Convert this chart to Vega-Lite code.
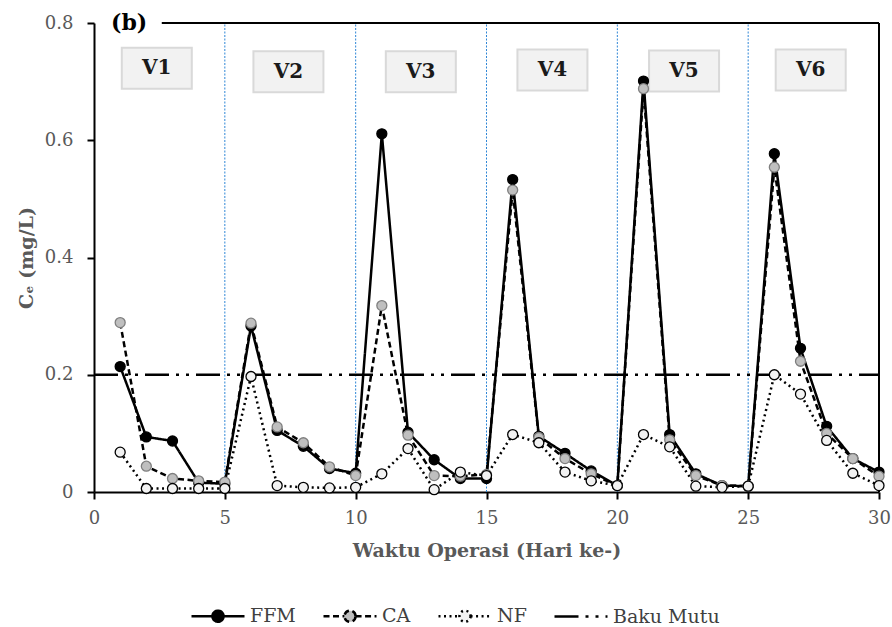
{
  "$schema": "https://vega.github.io/schema/vega-lite/v6.json",
  "width": 785,
  "height": 469,
  "autosize": {"type": "none"},
  "padding": {"left": 94, "top": 23, "right": 13, "bottom": 135},
  "background": "white",
  "config": {"view": {"stroke": null}, "font": "DejaVu Serif"},
  "datasets": {
    "obs": [
      {"day": 1, "series": "FFM", "value": 0.214}, {"day": 2, "series": "FFM", "value": 0.094}, {"day": 3, "series": "FFM", "value": 0.087},
      {"day": 4, "series": "FFM", "value": 0.016}, {"day": 5, "series": "FFM", "value": 0.014}, {"day": 6, "series": "FFM", "value": 0.283},
      {"day": 7, "series": "FFM", "value": 0.105}, {"day": 8, "series": "FFM", "value": 0.078}, {"day": 9, "series": "FFM", "value": 0.04},
      {"day": 10, "series": "FFM", "value": 0.032}, {"day": 11, "series": "FFM", "value": 0.611}, {"day": 12, "series": "FFM", "value": 0.102},
      {"day": 13, "series": "FFM", "value": 0.055}, {"day": 14, "series": "FFM", "value": 0.023}, {"day": 15, "series": "FFM", "value": 0.023},
      {"day": 16, "series": "FFM", "value": 0.533}, {"day": 17, "series": "FFM", "value": 0.095}, {"day": 18, "series": "FFM", "value": 0.066},
      {"day": 19, "series": "FFM", "value": 0.036}, {"day": 20, "series": "FFM", "value": 0.011}, {"day": 21, "series": "FFM", "value": 0.701},
      {"day": 22, "series": "FFM", "value": 0.098}, {"day": 23, "series": "FFM", "value": 0.031}, {"day": 24, "series": "FFM", "value": 0.011},
      {"day": 25, "series": "FFM", "value": 0.01}, {"day": 26, "series": "FFM", "value": 0.577}, {"day": 27, "series": "FFM", "value": 0.245},
      {"day": 28, "series": "FFM", "value": 0.112}, {"day": 29, "series": "FFM", "value": 0.057}, {"day": 30, "series": "FFM", "value": 0.034},
      {"day": 1, "series": "CA", "value": 0.289}, {"day": 2, "series": "CA", "value": 0.044}, {"day": 3, "series": "CA", "value": 0.023},
      {"day": 4, "series": "CA", "value": 0.019}, {"day": 5, "series": "CA", "value": 0.017}, {"day": 6, "series": "CA", "value": 0.288},
      {"day": 7, "series": "CA", "value": 0.111}, {"day": 8, "series": "CA", "value": 0.084}, {"day": 9, "series": "CA", "value": 0.043},
      {"day": 10, "series": "CA", "value": 0.028}, {"day": 11, "series": "CA", "value": 0.318}, {"day": 12, "series": "CA", "value": 0.097},
      {"day": 13, "series": "CA", "value": 0.028}, {"day": 14, "series": "CA", "value": 0.027}, {"day": 15, "series": "CA", "value": 0.03},
      {"day": 16, "series": "CA", "value": 0.515}, {"day": 17, "series": "CA", "value": 0.093}, {"day": 18, "series": "CA", "value": 0.057},
      {"day": 19, "series": "CA", "value": 0.031}, {"day": 20, "series": "CA", "value": 0.011}, {"day": 21, "series": "CA", "value": 0.688},
      {"day": 22, "series": "CA", "value": 0.089}, {"day": 23, "series": "CA", "value": 0.028}, {"day": 24, "series": "CA", "value": 0.011},
      {"day": 25, "series": "CA", "value": 0.01}, {"day": 26, "series": "CA", "value": 0.554}, {"day": 27, "series": "CA", "value": 0.223},
      {"day": 28, "series": "CA", "value": 0.1}, {"day": 29, "series": "CA", "value": 0.057}, {"day": 30, "series": "CA", "value": 0.027},
      {"day": 1, "series": "NF", "value": 0.068}, {"day": 2, "series": "NF", "value": 0.006}, {"day": 3, "series": "NF", "value": 0.006},
      {"day": 4, "series": "NF", "value": 0.006}, {"day": 5, "series": "NF", "value": 0.006}, {"day": 6, "series": "NF", "value": 0.197},
      {"day": 7, "series": "NF", "value": 0.011}, {"day": 8, "series": "NF", "value": 0.008}, {"day": 9, "series": "NF", "value": 0.007},
      {"day": 10, "series": "NF", "value": 0.008}, {"day": 11, "series": "NF", "value": 0.031}, {"day": 12, "series": "NF", "value": 0.074},
      {"day": 13, "series": "NF", "value": 0.004}, {"day": 14, "series": "NF", "value": 0.034}, {"day": 15, "series": "NF", "value": 0.028},
      {"day": 16, "series": "NF", "value": 0.098}, {"day": 17, "series": "NF", "value": 0.084}, {"day": 18, "series": "NF", "value": 0.034},
      {"day": 19, "series": "NF", "value": 0.019}, {"day": 20, "series": "NF", "value": 0.011}, {"day": 21, "series": "NF", "value": 0.098},
      {"day": 22, "series": "NF", "value": 0.077}, {"day": 23, "series": "NF", "value": 0.01}, {"day": 24, "series": "NF", "value": 0.008},
      {"day": 25, "series": "NF", "value": 0.01}, {"day": 26, "series": "NF", "value": 0.2}, {"day": 27, "series": "NF", "value": 0.167},
      {"day": 28, "series": "NF", "value": 0.088}, {"day": 29, "series": "NF", "value": 0.032}, {"day": 30, "series": "NF", "value": 0.011},
      {"day": 0, "series": "Baku Mutu", "value": 0.2}, {"day": 30, "series": "Baku Mutu", "value": 0.2}
    ],
    "dividers": [{"day": 5}, {"day": 10}, {"day": 15}, {"day": 20}, {"day": 25}],
    "phases": [
      {"label": "V1", "day": 2.4, "value": 0.723},
      {"label": "V2", "day": 7.43, "value": 0.717},
      {"label": "V3", "day": 12.49, "value": 0.717},
      {"label": "V4", "day": 17.52, "value": 0.72},
      {"label": "V5", "day": 22.55, "value": 0.718},
      {"label": "V6", "day": 27.39, "value": 0.72}
    ]
  },
  "layer": [
    {
      "data": {"name": "dividers"},
      "mark": {"type": "rule", "color": "#2f86d6", "strokeWidth": 1, "strokeDash": [2, 1.5]},
      "encoding": {
        "x": {"field": "day", "type": "quantitative"},
        "y": {"datum": 0},
        "y2": {"datum": 0.8}
      }
    },
    {
      "data": {"values": [{}]},
      "mark": {"type": "rule", "color": "black", "strokeWidth": 2},
      "encoding": {
        "x": {"datum": 2.59},
        "x2": {"datum": 30},
        "y": {"datum": 0.8}
      }
    },
    {
      "data": {"values": [{}]},
      "mark": {"type": "rule", "color": "black", "strokeWidth": 2},
      "encoding": {
        "x": {"datum": 30},
        "y": {"datum": 0},
        "y2": {"datum": 0.8}
      }
    },
    {
      "data": {"values": [{}]},
      "mark": {"type": "text", "text": "(b)", "font": "DejaVu Serif", "fontWeight": "bold", "fontSize": 22, "color": "black", "baseline": "middle", "align": "center"},
      "encoding": {
        "x": {"datum": 1.34},
        "y": {"datum": 0.8}
      }
    },
    {
      "data": {"name": "phases"},
      "mark": {"type": "rect", "width": 70, "height": 41, "fill": "#f2f2f2", "stroke": "#d9d9d9", "strokeWidth": 2},
      "encoding": {
        "x": {"field": "day", "type": "quantitative"},
        "y": {"field": "value", "type": "quantitative"}
      }
    },
    {
      "data": {"name": "phases"},
      "mark": {"type": "text", "font": "DejaVu Serif", "fontWeight": "bold", "fontSize": 20, "color": "#1a1a1a", "baseline": "middle", "align": "center"},
      "encoding": {
        "x": {"field": "day", "type": "quantitative"},
        "y": {"field": "value", "type": "quantitative"},
        "text": {"field": "label"}
      }
    },
    {
      "data": {"name": "obs"},
      "mark": {"type": "line", "color": "black", "strokeWidth": 2.5},
      "encoding": {
        "x": {
          "field": "day", "type": "quantitative",
          "scale": {"domain": [0, 30], "nice": false},
          "axis": {
            "values": [0, 5, 10, 15, 20, 25, 30], "grid": false, "labelFlush": false,
            "title": "Waktu Operasi (Hari ke-)",
            "domainColor": "black", "domainWidth": 2, "tickColor": "black", "tickWidth": 2, "tickSize": 7,
            "labelFont": "DejaVu Serif", "labelFontSize": 18, "labelColor": "#595959", "labelPadding": 10,
            "titleFont": "DejaVu Serif", "titleFontSize": 19, "titleFontWeight": "bold", "titleColor": "#595959", "titlePadding": 14
          }
        },
        "y": {
          "field": "value", "type": "quantitative",
          "scale": {"domain": [0, 0.8], "nice": false},
          "axis": {
            "values": [0, 0.2, 0.4, 0.6, 0.8], "format": "~g", "grid": false,
            "title": "Cₑ (mg/L)",
            "domainColor": "black", "domainWidth": 2, "tickColor": "black", "tickWidth": 2, "tickSize": 7,
            "labelFont": "DejaVu Serif", "labelFontSize": 18, "labelColor": "#595959", "labelPadding": 14,
            "titleFont": "DejaVu Serif", "titleFontSize": 19, "titleFontWeight": "bold", "titleColor": "#595959", "titlePadding": 8
          }
        },
        "strokeDash": {
          "field": "series", "type": "nominal",
          "scale": {"domain": ["FFM", "CA", "NF", "Baku Mutu"], "range": [[1, 0], [6, 3.5], [2, 3.5], [24, 7, 3, 7, 3, 7]]},
          "legend": {
            "orient": "none", "legendX": 96, "legendY": 565, "direction": "horizontal", "title": null,
            "labelFont": "DejaVu Serif", "labelFontSize": 19, "labelColor": "#404040", "labelOffset": 4,
            "symbolSize": 2809, "symbolStrokeWidth": 2.5, "columnPadding": 22, "symbolStrokeColor": "black",
            "encode": {
              "symbols": {
                "update": {
                  "shape": {"signal": "datum.value === 'Baku Mutu' ? 'M-1,0H1' : 'M-1,0H-0.21M0.21,0H1M0.21,0A0.21,0.21,0,1,1,-0.21,0A0.21,0.21,0,1,1,0.21,0Z'"},
                  "fill": {"signal": "datum.value === 'FFM' ? 'black' : datum.value === 'CA' ? '#bfbfbf' : datum.value === 'NF' ? '#f2f2f2' : 'transparent'"},
                  "stroke": {"value": "black"}
                }
              }
            }
          }
        }
      }
    },
    {
      "data": {"name": "obs"},
      "transform": [{"filter": "datum.series !== 'Baku Mutu'"}],
      "mark": {"type": "point", "filled": true, "size": 100, "strokeWidth": 1.3, "opacity": 1},
      "encoding": {
        "x": {"field": "day", "type": "quantitative"},
        "y": {"field": "value", "type": "quantitative"},
        "fill": {"field": "series", "type": "nominal", "scale": {"domain": ["FFM", "CA", "NF"], "range": ["black", "#bfbfbf", "#f2f2f2"]}, "legend": null},
        "stroke": {"field": "series", "type": "nominal", "scale": {"domain": ["FFM", "CA", "NF"], "range": ["black", "#7f7f7f", "black"]}, "legend": null}
      }
    }
  ]
}
